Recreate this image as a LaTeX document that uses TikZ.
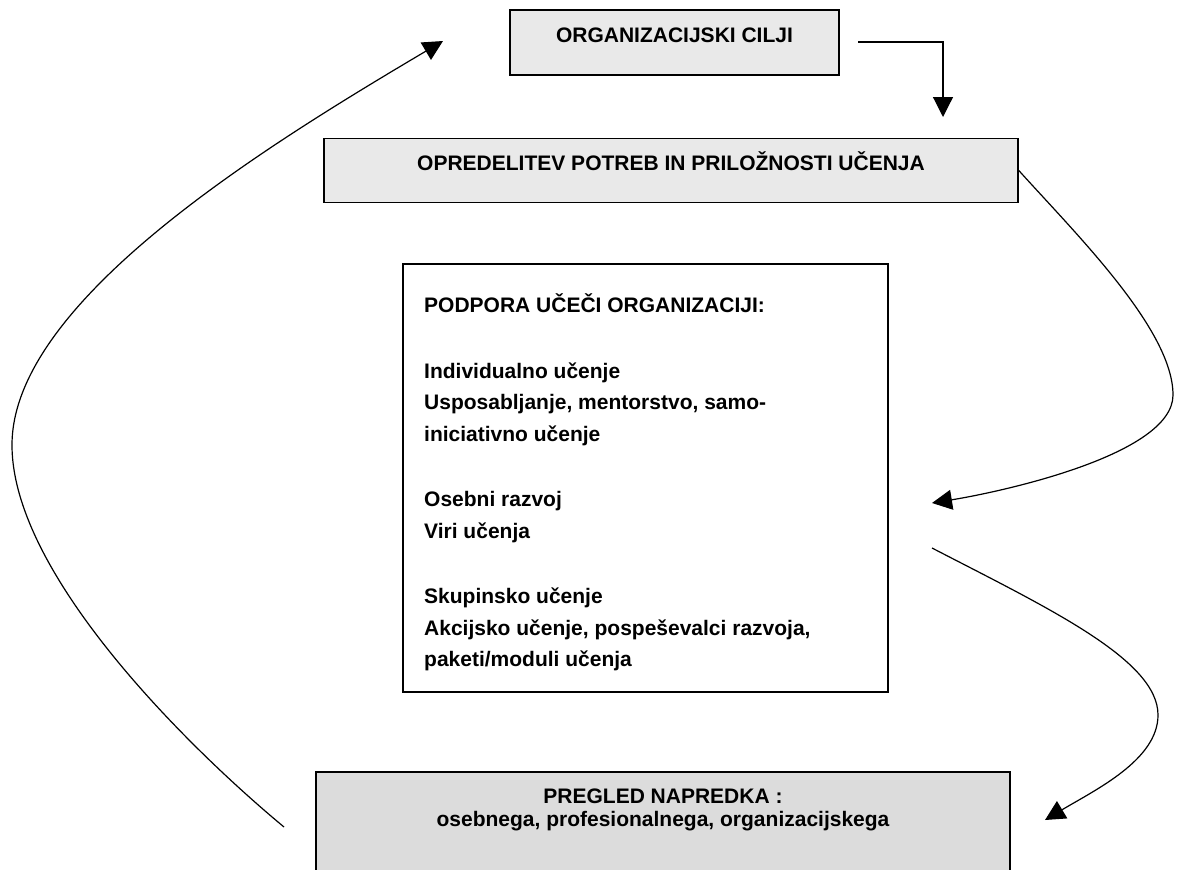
\documentclass[tikz,border=0pt]{standalone}
\usepackage{fontspec}
\setmainfont{Liberation Sans}
\usetikzlibrary{arrows.meta}
\definecolor{boxgray}{HTML}{E9E9E9}
\definecolor{reviewgray}{HTML}{DCDCDC}
\begin{document}
\begin{tikzpicture}[x=1pt,y=-1pt,
  box/.style={draw=black, line width=1.6pt, inner sep=0pt,
    font=\fontsize{21}{23.4}\selectfont\bfseries},
  boxtext/.style={inner sep=0pt, font=\bfseries},
  link/.style={line width=1.2pt, -{Triangle[length=20pt,width=20pt]}},
]
\useasboundingbox (0,0) rectangle (1178,870);
\clip (0,0) rectangle (1178,870);

% boxes
\node[box, fill=boxgray, minimum width=329pt, minimum height=65pt,
      text height=16pt, text depth=16pt] (cilji) at (674.5,42.5)
      {ORGANIZACIJSKI CILJI};
\node[box, fill=boxgray, minimum width=694pt, minimum height=64pt,
      text height=16pt, text depth=16pt] (potrebe) at (671,170.5)
      {OPREDELITEV POTREB IN PRILOŽNOSTI UČENJA};
\node[box, fill=white, minimum width=485pt, minimum height=428pt] (podpora) at (645.5,478) {};
% multi-line text: the base anchor sits on the last line
\node[boxtext, anchor=base west, align=left,
      font=\fontsize{21}{31.5}\selectfont\bfseries] (podporatext) at (424,666.7)
      {PODPORA UČEČI ORGANIZACIJI:\\[34pt]
       Individualno učenje\\
       Usposabljanje, mentorstvo, samo-\\
       iniciativno učenje\\[34pt]
       Osebni razvoj\\
       Viri učenja\\[34pt]
       Skupinsko učenje\\
       Akcijsko učenje, pospeševalci razvoja,\\
       paketi/moduli učenja};
\node[box, fill=reviewgray, minimum width=694pt, minimum height=140pt] (pregled) at (663,842) {};
\node[boxtext, anchor=base, align=center,
      font=\fontsize{21}{23.7}\selectfont\bfseries] (pregledtext) at (663,826.7)
      {PREGLED NAPREDKA :\\ osebnega, profesionalnega, organizacijskega};

% connector ends
\coordinate (a0) at (858,42);
\coordinate (a1) at (943,117);
\coordinate (r1) at (1173,395);
\coordinate (r1tip) at (932,503);
\coordinate (s0) at (932,548);
\coordinate (s1) at (1158,715);
\coordinate (s2) at (1045,820);
\coordinate (b0) at (284,827);
\coordinate (b1) at (12,445);
\coordinate (b2) at (443,41);

% connectors
\draw[link] (a0) -| (a1);
\draw[link] (potrebe.east) .. controls (1077,235) and (1173,330) .. (r1)
            .. controls (1173,455) and (1000,492) .. (r1tip);
\draw[link] (s0) .. controls (1050,609) and (1158,660) .. (s1)
            .. controls (1158,760) and (1095,790) .. (s2);
\draw[link] (b0) .. controls (190,749) and (12,575) .. (b1)
            .. controls (12,300) and (271,143) .. (b2);
\end{tikzpicture}
\end{document}
